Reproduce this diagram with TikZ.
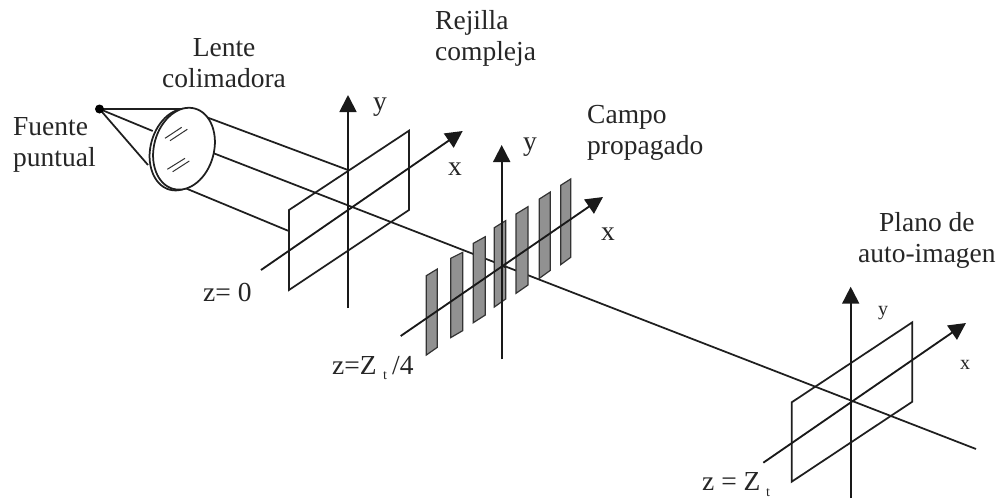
\documentclass[tikz,border=0pt]{standalone}
\usepackage{fontspec}
\setmainfont{Liberation Serif}
\usetikzlibrary{arrows.meta}
\tikzset{
 ln/.style={line width=1.75pt,draw=black!88},
 thin ln/.style={line width=1pt,draw=black!80},
 ax/.style={line width=1.85pt,draw=black!90,-{Triangle[length=17pt,width=17pt]}},
 bar/.style={line width=1.2pt,draw=black!80,fill=black!43},
 lbl/.style={font=\fontsize{27.5}{31}\selectfont,text=black!85,inner sep=0pt,anchor=base west},
 sm/.style={font=\fontsize{20}{24}\selectfont,text=black!85,inner sep=0pt,anchor=base west},
 sub/.style={font=\fontsize{14}{16}\selectfont,text=black!85,inner sep=0pt,anchor=base west}
}
\begin{document}
\begin{tikzpicture}[x=1pt,y=-1pt]
\useasboundingbox (0,0) rectangle (1001,499);
\fill[white] (0,0) rectangle (1001,499);
% named points
\coordinate (src) at (99.5,109);
\coordinate (c1) at (349,208);
\coordinate (c2) at (501.7,265.7);
\coordinate (c3) at (850.7,401.7);
\coordinate (oa) at (213,153);
\coordinate (oe) at (976,449);
% optical axis behind bars
\draw[ln] (oa) -- (oe);
% source rays
\draw[ln] (src) -- (183,109);
\draw[ln] (src) -- (152.7,131);
\draw[ln] (src) -- (148,165);
\fill[black] (src) circle (4.5);
% collimated rays
\draw[ln] (186,109.5) -- (348,170);
\draw[ln] (185,188) -- (288,230.7);
% lens
\draw[ln,fill=white] (180.5,149.5) ellipse[x radius=41.6,y radius=30,rotate=75];
\draw[ln,fill=white] (184,148.7) ellipse[x radius=41.6,y radius=30,rotate=75];
\draw[thin ln] (165,138.3) -- (181.7,127.3);
\draw[thin ln] (170,140.7) -- (187.3,129.3);
\draw[thin ln] (167.3,169.3) -- (185,158.3);
\draw[thin ln] (172.7,171.7) -- (189.3,161);
% plane 1
\draw[ln] (289,210) -- (409,130.7) -- (409,210) -- (289,290) -- cycle;
\draw[ax] (348,308) -- (348,95);
\draw[ax] (261,270) -- (462.7,131);
% grating
\foreach \a/\b/\c/\d in {79/467/112/447,152/415/188/397,220/370/256/350,283/323/317/302,348/282/384/260,418/237/451/216,482/196/512/177}{
 \draw[bar] ({400+\a/3},{120+\b/3}) -- ({400+\c/3},{120+\d/3}) -- ({400+\c/3},{120+(\d+235)/3}) -- ({400+\a/3},{120+(\b+238)/3}) -- cycle;
}
\draw[ln] (c2) -- (505.7,267.3);
\draw[ax] (400.7,336) -- (603,197);
\draw[ax] (501.7,359.3) -- (501.7,145);
% plane 3
\draw[ln] (791.7,402.3) -- (912.3,322.3) -- (912.3,401.7) -- (791.7,481.7) -- cycle;
\draw[ax] (850.7,498) -- (850.7,286.7);
\draw[ax] (763.3,462.7) -- (966,323);
% labels
\node[lbl,align=center] (l1) at (162,87.3) {Lente\\colimadora};
\node[lbl,align=left] (l2) at (13,166) {Fuente\\puntual};
\node[lbl,align=left] (l3) at (435,60) {Rejilla\\compleja};
\node[lbl,align=left] (l4) at (587,154) {Campo\\propagado};
\node[lbl,align=center] (l5) at (858,262) {Plano de\\auto-imagen};
\node[lbl] (y1) at (373,110) {y};
\node[lbl] (y2) at (523,150) {y};
\node[sm] (y3) at (878,315) {y};
\node[lbl] (x1) at (448,175) {x};
\node[lbl] (x2) at (601,240) {x};
\node[sm] (x3) at (960,369) {x};
\node[lbl] (z1) at (203,301.7) {z= 0};
\node[lbl] (z2) at (332,374) {z=Z};
\node[sub] (t2) at (383,379) {t};
\node[lbl] (z2b) at (392,374) {/4};
\node[lbl] (z3) at (702,490) {z = Z};
\node[sub] (t3) at (766,496.7) {t};
\end{tikzpicture}
\end{document}
